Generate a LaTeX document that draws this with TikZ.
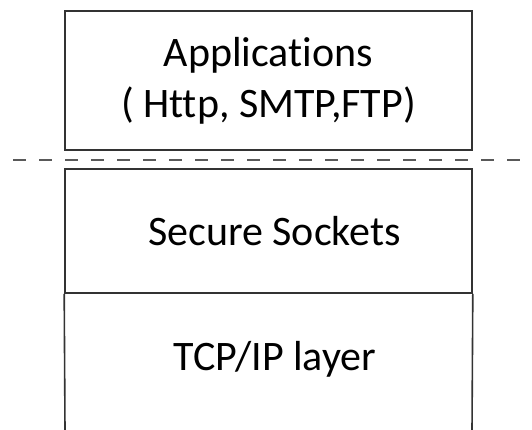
\documentclass[tikz,border=0pt]{standalone}
\usepackage{fontspec}
\setmainfont{Carlito}[RawFeature=-liga]
\usepackage{tikz}

\begin{document}
\begin{tikzpicture}[x=1pt,y=-1pt,
		layer/.style={draw=black!80, line width=1.6pt, minimum width=407pt, align=center, inner sep=0pt, font=\fontsize{42}{51}\selectfont},
		cut/.style={draw=black!65, line width=2.4pt, dash pattern=on 13pt off 13pt}
		]
		\useasboundingbox (0,0) rectangle (532,430);
		
		\node [layer, minimum height=139pt] (app) at (268.5,80.5) {Applications\\( Http, SMTP,FTP)};
		\node [layer, minimum height=124pt] (sock) at (268.5,231) {\hspace{12pt}Secure Sockets};
		
		% open box below, runs off the page
		\coordinate (tcpL) at (65,430);
		\coordinate (tcpR) at (472,430);
		\draw [black!80, line width=1.6pt] (sock.south west) -- (tcpL);
		\draw [black!80, line width=1.6pt] (sock.south east) -- (tcpR);
		\node [anchor=base, inner sep=0pt, font=\fontsize{42}{51}\selectfont] (tcp) at (275,370) {TCP/IP layer};
		
		\coordinate (cutL) at (13,160);
		\coordinate (cutR) at (532,160);
		\draw [cut] (cutL) -- (cutR);
		\end{tikzpicture}
\end{document}
